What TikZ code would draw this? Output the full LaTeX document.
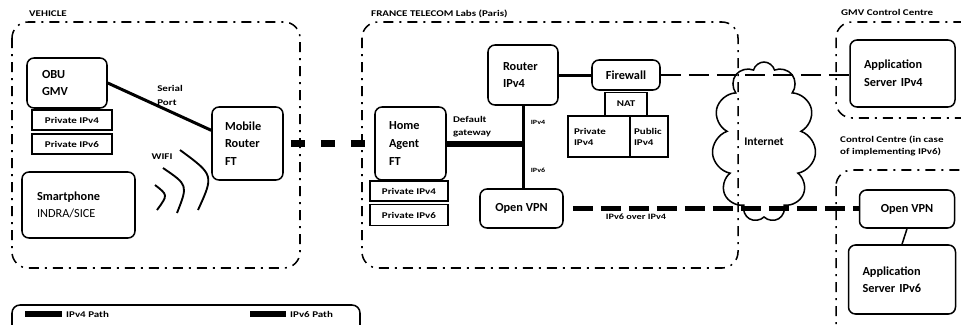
\documentclass[tikz,border=0pt]{standalone}
\usepackage{fontspec}
\setmainfont{Carlito}
\newfontfamily\etire{Carlito}[FakeStretch=1.25]
\usetikzlibrary{shapes.symbols}
\newdimen\px \px=0.03cm

\begin{document}
\begin{tikzpicture}[x=0.03cm, y=-0.03cm,
  boite/.style={draw, line width=1.3pt, rounded corners=7\px, align=left,
    font=\fontsize{10.5}{15}\selectfont\bfseries},
  etiquette/.style={draw, line width=1pt, inner sep=0pt, minimum width=80\px,
    minimum height=20\px, font=\etire\fontsize{7.5}{9.5}\selectfont\bfseries},
  zone/.style={line width=1.3pt, rounded corners=16\px,
    dash pattern=on 10\px off 6\px on 2\px off 6\px},
  titre/.style={anchor=west, inner sep=0pt, align=left,
    font=\etire\fontsize{7.5}{11}\selectfont\bfseries},
  petit/.style={inner sep=0pt, align=left, font=\etire\fontsize{7.5}{12}\selectfont\bfseries}]
  \useasboundingbox (0,0) rectangle (961,324);
  \clip (0,0) rectangle (961,324);

  % Les zones
  \draw[zone] (12,22) rectangle (300,268);
  \draw[zone] (362,22) rectangle (738,268);
  \draw[zone] (836,22) rectangle (990,118);
  \draw[zone] (836,170) rectangle (990,360);
  \draw[line width=1.3pt, rounded corners=8\px] (12,360) -- (12,305) -- (360,305) -- (360,360);

  \node[titre] (tveh) at (29,14) {VEHICLE};
  \node[titre] (tft) at (371,14) {FRANCE TELECOM Labs (Paris)};
  \node[titre] (tgmv) at (841,12) {GMV Control Centre};
  \node[titre] (tcc) at (840,146) {Control Centre (in case\\of implementing IPv6)};

  % Le vehicule
  \node[boite, text width=50\px, inner xsep=15\px, minimum height=50\px] (obu) at (67,83) {OBU\\GMV};
  \node[etiquette] (obu4) at (72,120) {Private IPv4};
  \node[etiquette] (obu6) at (72,144) {Private IPv6};
  \node[boite, text width=45\px, inner xsep=13\px, minimum height=73\px] (mr) at (247.5,143.5) {Mobile\\Router\\FT};
  \node[boite, text width=83\px, inner xsep=15\px, minimum height=66\px] (phone) at (78.5,205) {Smartphone\\{\mdseries INDRA/SICE}};
  \node[petit] (serial) at (170,95) {Serial\\Port};
  \node[petit] (wifi) at (162,157) {WIFI};
  \draw[line width=1.6pt] (155,185) .. controls (168,195) .. (157,210);
  \draw[line width=1.6pt] (163,168) .. controls (188,185) .. (177,213);
  \draw[line width=1.6pt] (180,150) .. controls (214,175) .. (198,210);

  % Les labos
  \node[boite, text width=43\px, inner xsep=14\px, minimum height=73\px] (ha) at (410.5,143.5) {Home\\Agent\\FT};
  \node[etiquette, minimum width=78\px] (ha4) at (409,191) {Private IPv4};
  \node[etiquette, minimum width=78\px, minimum height=21\px] (ha6) at (409,215) {Private IPv6};
  \node[boite, text width=40\px, inner xsep=15\px, minimum height=60\px] (rt) at (523,75) {Router\\IPv4};
  \node[boite, align=center, minimum width=68\px, minimum height=30\px] (fw) at (626,75) {Firewall};
  \node[etiquette, minimum width=42\px, minimum height=23\px] (nat) at (626,104) {NAT};
  \node[etiquette, align=left, minimum width=0pt, text width=50\px, inner xsep=6\px, minimum height=41\px] (priv) at (599,136.5) {Private\\IPv4};
  \node[etiquette, align=left, minimum width=0pt, text width=30\px, inner xsep=4\px, minimum height=41\px] (pub) at (649,136.5) {Public\\IPv4};
  \node[boite, align=center, minimum width=83\px, minimum height=39\px] (vpn) at (521.5,208.5) {Open VPN};
  \node[petit, font=\etire\fontsize{7.5}{11}\selectfont\bfseries] (gw) at (472,127) {Default\\gateway};
  \node[petit, font=\etire\fontsize{5.5}{6}\selectfont\bfseries] (l4) at (538,122) {IPv4};
  \node[petit, font=\etire\fontsize{5.5}{6}\selectfont\bfseries] (l6) at (538,170) {IPv6};
  \node[petit, font=\etire\fontsize{7}{8}\selectfont\bfseries] (over) at (636,217) {IPv6 over IPv4};

  % Internet
  \node[draw, cloud, cloud puffs=11, cloud ignores aspect, line width=1.3pt,
    minimum width=104\px, minimum height=160\px,
    font=\fontsize{10}{12}\selectfont\bfseries] (inet) at (764,142) {Internet};

  % Les centres
  \node[boite, text width=77\px, inner xsep=14\px, minimum height=67\px] (app4) at (902.5,73.5) {Application\\Server IPv4};
  \node[boite, align=center, minimum width=95\px, minimum height=38\px] (vpnr) at (907,209) {Open VPN};
  \node[boite, text width=79\px, inner xsep=14\px, minimum height=69\px] (app6) at (902,279.5) {Application\\Server IPv6};

  % Les liaisons
  \draw[line width=3\px] (obu.east) -- (mr.160);
  \draw[line width=7\px, dash pattern=on 14\px off 16\px, shorten <=7\px, shorten >=9\px] (mr.east) -- (ha.west);
  \coordinate (jonction) at (rt.south |- ha.east);
  \draw[line width=6\px] (ha.east) -- (jonction);
  \draw[line width=3\px] (rt.south) -- (rt.south |- vpn.north);
  \draw[line width=3\px] (rt.east) -- (fw.west);
  \draw[line width=2\px, dash pattern=on 20\px off 8\px] (fw.east) -- (fw.east -| app4.west);
  \draw[line width=5\px, dash pattern=on 20\px off 8\px, shorten <=9\px] (vpn.east) -- (vpn.east -| vpnr.west);
  \draw[line width=1.3pt] (vpnr.south) -- (app6.north);

  % La legende
  \coordinate (a4) at (25,314);
  \coordinate (b4) at (62,314);
  \coordinate (a6) at (250,314);
  \coordinate (b6) at (286,314);
  \draw[line width=6\px] (a4) -- (b4);
  \draw[line width=6\px] (a6) -- (b6);
  \node[titre] (t4) at (66,314) {IPv4 Path};
  \node[titre] (t6) at (290,314) {IPv6 Path};

\end{tikzpicture}
\end{document}
